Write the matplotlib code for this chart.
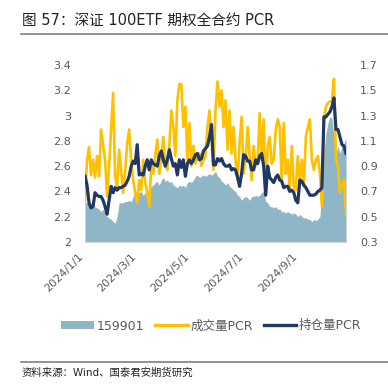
import pandas as pd
import matplotlib
matplotlib.use("Agg")
import matplotlib.pyplot as plt
import matplotlib.dates as mdates
from matplotlib.ticker import FuncFormatter, FixedLocator
from matplotlib.patches import Patch
from matplotlib.lines import Line2D

plt.rcParams['font.family'] = ['DejaVu Sans', 'Noto Sans CJK SC']

# sampled roughly every 2-3 days, Jan 1 -> Oct 24 2024
dates = pd.date_range("2024-01-01", "2024-10-24", periods=131)

etf_159901 = [
    2.32, 2.31, 2.28, 2.28, 2.27, 2.28, 2.27, 2.26, 2.24, 2.26,
    2.23, 2.20, 2.19, 2.18, 2.16, 2.15, 2.20, 2.31, 2.31, 2.31,
    2.32, 2.32, 2.33, 2.32, 2.36, 2.39, 2.40, 2.39, 2.40, 2.37,
    2.39, 2.41, 2.39, 2.44, 2.45, 2.47, 2.48, 2.45, 2.49, 2.51,
    2.48, 2.49, 2.47, 2.48, 2.45, 2.44, 2.43, 2.45, 2.44, 2.45,
    2.43, 2.47, 2.48, 2.47, 2.49, 2.52, 2.53, 2.51, 2.52, 2.53,
    2.52, 2.53, 2.54, 2.53, 2.54, 2.56, 2.52, 2.51, 2.48, 2.47,
    2.45, 2.47, 2.44, 2.43, 2.41, 2.40, 2.37, 2.36, 2.33, 2.35,
    2.36, 2.35, 2.33, 2.36, 2.36, 2.37, 2.36, 2.37, 2.39, 2.40,
    2.32, 2.31, 2.28, 2.28, 2.27, 2.28, 2.26, 2.26, 2.24, 2.24,
    2.23, 2.24, 2.23, 2.22, 2.23, 2.22, 2.20, 2.22, 2.20, 2.19,
    2.19, 2.18, 2.18, 2.16, 2.18, 2.17, 2.18, 2.20, 2.44, 2.70,
    2.86, 2.94, 2.99, 2.98, 2.83, 2.68, 2.76, 2.70, 2.76, 2.78,
    2.82,
]

volume_pcr = [
    0.63, 0.95, 1.05, 0.83, 0.95, 0.81, 0.98, 0.82, 1.19, 1.07,
    0.95, 0.66, 0.90, 1.19, 1.48, 0.82, 0.74, 1.03, 0.87, 0.69,
    0.86, 1.08, 1.19, 0.95, 0.79, 0.69, 0.61, 0.79, 0.71, 0.95,
    0.77, 0.69, 0.58, 0.92, 0.84, 0.98, 1.11, 0.84, 0.95, 1.13,
    0.90, 0.87, 1.06, 1.34, 1.21, 0.98, 1.42, 1.55, 1.55, 1.21,
    1.37, 0.95, 1.24, 0.90, 1.06, 0.92, 0.98, 1.00, 0.90, 0.95,
    0.98, 1.21, 1.34, 1.11, 0.87, 1.34, 1.57, 1.37, 1.50, 1.21,
    1.42, 1.03, 1.34, 1.00, 1.21, 0.95, 0.79, 1.08, 1.29, 0.84,
    0.95, 1.21, 0.98, 0.79, 1.06, 0.90, 0.95, 1.32, 0.95, 1.27,
    0.69, 1.06, 1.13, 0.92, 0.95, 1.19, 1.27, 1.21, 0.77, 1.24,
    0.84, 0.95, 0.71, 1.06, 0.74, 0.71, 0.98, 0.79, 0.95, 0.74,
    1.13, 1.21, 1.27, 0.95, 0.87, 0.95, 0.98, 0.84, 0.58, 1.27,
    1.37, 1.40, 1.41, 1.42, 1.59, 0.95, 0.90, 0.69, 0.74, 0.79,
    0.52,
]

oi_pcr = [
    0.82, 0.75, 0.61, 0.57, 0.58, 0.69, 0.67, 0.66, 0.66, 0.63,
    0.58, 0.52, 0.63, 0.74, 0.69, 0.73, 0.71, 0.73, 0.73, 0.74,
    0.75, 0.78, 0.82, 0.90, 0.94, 0.92, 1.07, 0.83, 0.84, 0.83,
    0.90, 0.95, 0.87, 0.95, 0.92, 0.91, 0.90, 0.98, 1.02, 0.95,
    0.90, 0.95, 1.03, 0.96, 0.90, 0.92, 0.83, 0.95, 0.89, 0.95,
    0.82, 0.92, 0.95, 0.92, 0.95, 0.99, 1.00, 0.95, 0.96, 1.02,
    1.04, 1.06, 1.13, 1.23, 0.91, 0.91, 0.96, 0.94, 0.96, 0.92,
    0.90, 0.90, 0.91, 0.87, 0.88, 0.87, 0.81, 0.74, 0.84, 0.99,
    0.98, 0.94, 0.94, 0.87, 0.87, 0.95, 0.92, 0.98, 1.00, 0.90,
    0.67, 0.90, 0.81, 0.79, 0.77, 0.81, 0.83, 0.79, 0.78, 0.73,
    0.74, 0.74, 0.70, 0.71, 0.69, 0.63, 0.61, 0.79, 0.78, 0.75,
    0.73, 0.70, 0.67, 0.67, 0.67, 0.68, 0.70, 0.71, 0.73, 1.29,
    1.29, 1.31, 1.33, 1.37, 1.44, 1.19, 1.19, 1.13, 1.07, 1.06,
    1.00,
]

left_ticks = [2, 2.2, 2.4, 2.6, 2.8, 3, 3.2, 3.4]
right_ticks = [0.3, 0.5, 0.7, 0.9, 1.1, 1.3, 1.5, 1.7]

area_color = '#8fb6c6'
yellow = '#ffc000'
navy = '#1f3864'
grey_text = '#595959'

fig = plt.figure(figsize=(3.88, 3.88), dpi=100)
ax = fig.add_axes([85 / 388, 1 - 242 / 388, 261 / 388, 177 / 388])
ax2 = ax.twinx()

ax.fill_between(dates, 2, etf_159901, color=area_color, lw=0)
ax2.plot(dates, volume_pcr, color=yellow, lw=1.9)
ax2.plot(dates, oi_pcr, color=navy, lw=2.3)

ax.set_ylim(2, 3.4)
ax2.set_ylim(0.3, 1.7)
ax.yaxis.set_major_locator(FixedLocator(left_ticks))
ax2.yaxis.set_major_locator(FixedLocator(right_ticks))
ax.yaxis.set_major_formatter(FuncFormatter(lambda v, p: f"{v:g}"))
ax2.yaxis.set_major_formatter(FuncFormatter(lambda v, p: f"{v:g}"))
ax.set_xlim(pd.Timestamp("2024-01-01"), pd.Timestamp("2024-10-24"))

ax.xaxis.set_major_locator(mdates.MonthLocator(bymonth=[1, 3, 5, 7, 9]))


def date_fmt(x, pos):
    d = mdates.num2date(x)
    return f"{d.year}/{d.month}/{d.day}"


ax.xaxis.set_major_formatter(FuncFormatter(date_fmt))
for lbl in ax.get_xticklabels():
    lbl.set_rotation(45)
    lbl.set_ha('right')

for a in (ax, ax2):
    for s in a.spines.values():
        s.set_visible(False)
    a.tick_params(length=0, labelsize=8, colors=grey_text, pad=10)
ax.spines['bottom'].set_visible(True)
ax.spines['bottom'].set_color('#d9d9d9')
ax.tick_params(axis='x', pad=7)

handles = [
    Patch(facecolor=area_color, edgecolor='none'),
    Line2D([], [], color=yellow, lw=2.4),
    Line2D([], [], color=navy, lw=2.4),
]
fig.legend(handles, ['159901', '成交量PCR', '持仓量PCR'], loc='center',
           bbox_to_anchor=(0.545, 1 - 326 / 388), ncol=3, frameon=False,
           fontsize=9, labelcolor=grey_text, handlelength=2.6,
           handleheight=0.6, handletextpad=0.2, columnspacing=0.9)

# title and source
fig.text(22 / 388, 1 - 20 / 388, '图 57：深证 100ETF 期权全合约 PCR',
         fontsize=10.5, color='#222222', va='center', ha='left')
fig.add_artist(Line2D([21 / 388, 1], [1 - 34 / 388] * 2, color='#808080', lw=1.2))
fig.add_artist(Line2D([21 / 388, 1], [1 - 362 / 388] * 2, color='#808080', lw=1.2))
fig.text(22 / 388, 1 - 373 / 388, '资料来源：Wind、国泰君安期货研究',
         fontsize=7.5, color='#222222', va='center', ha='left')

fig.savefig('out.png', dpi=100)
